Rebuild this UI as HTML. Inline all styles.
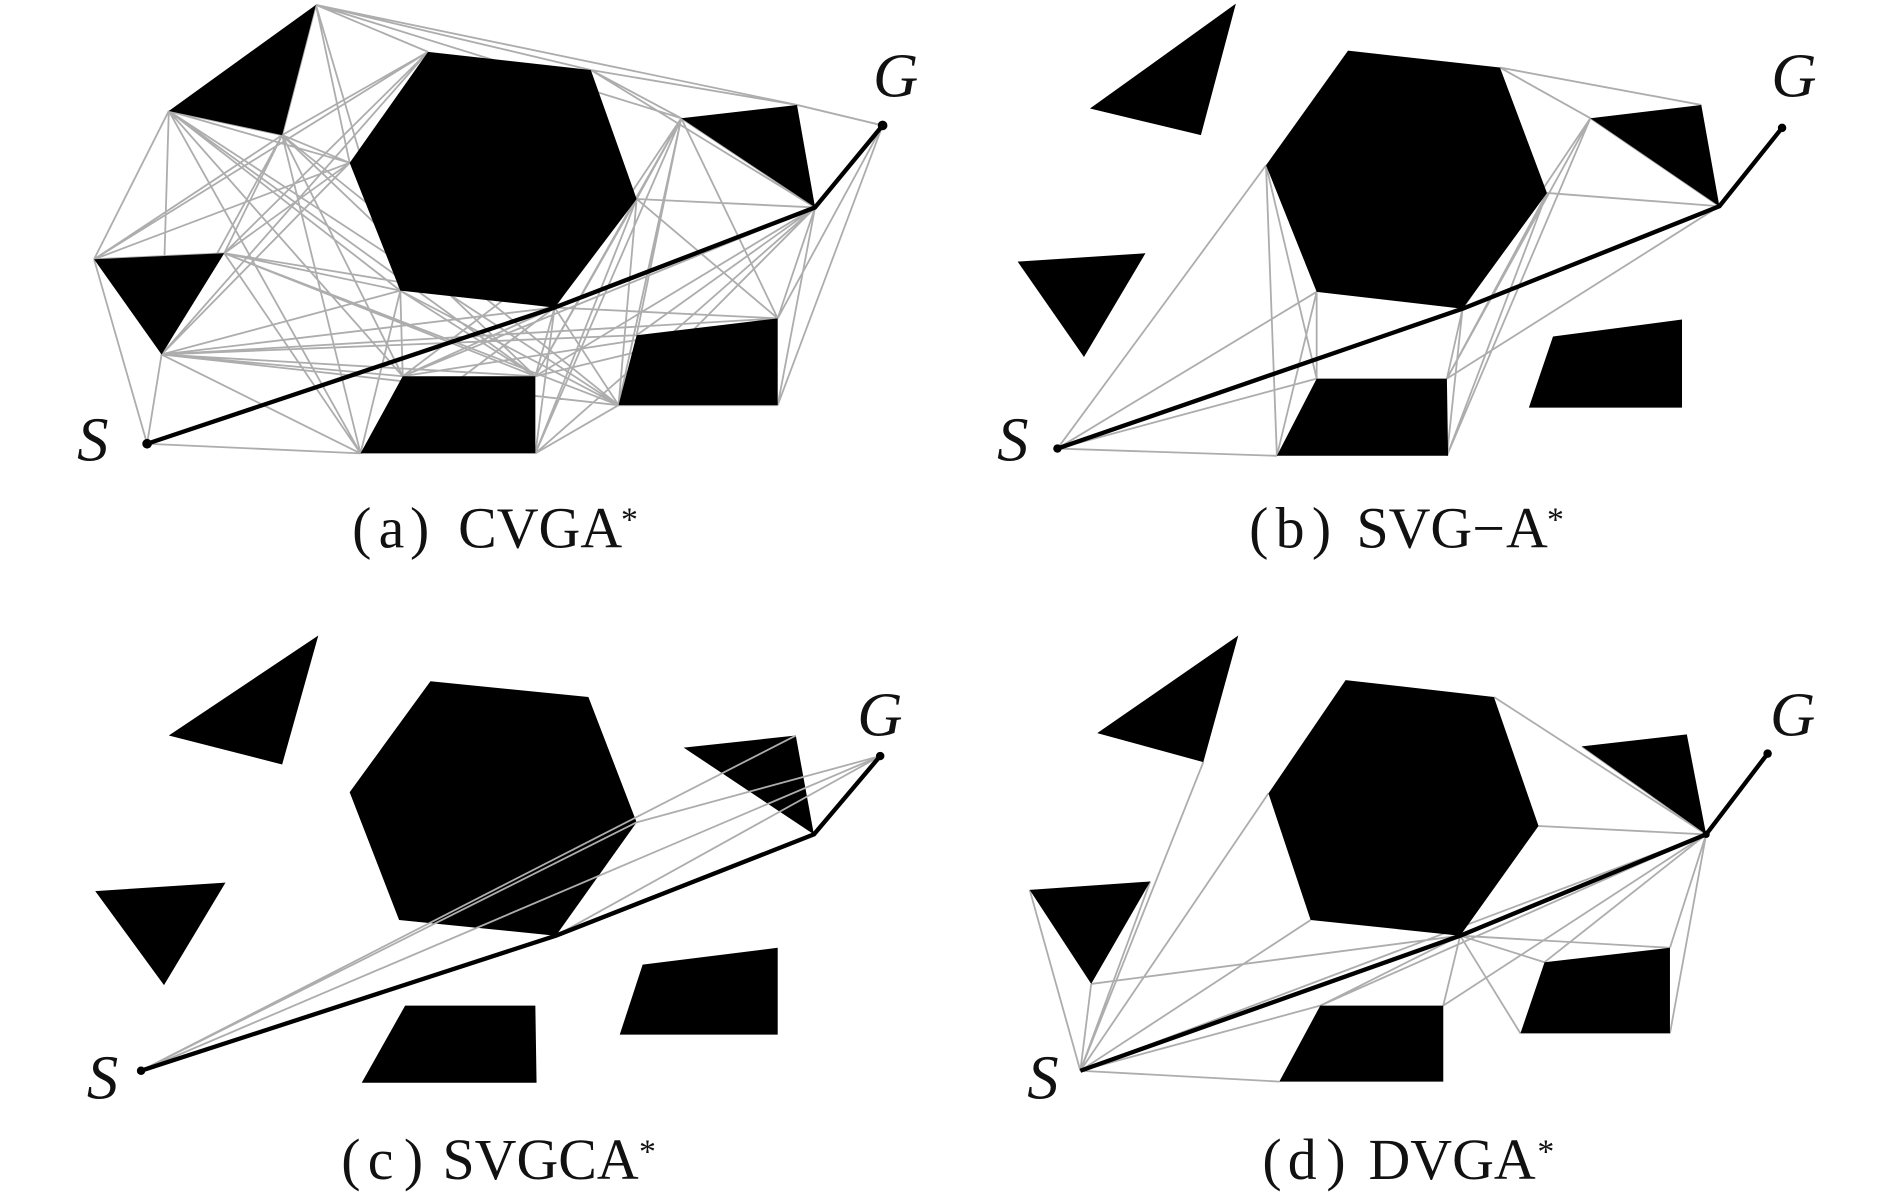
<!DOCTYPE html>
<html><head><meta charset="utf-8"><style>
html,body{margin:0;padding:0;background:#fff}
svg{display:block}
.o{fill:#000}
.t{fill:none;stroke:#adadad;stroke-width:1.5}
.p{fill:none;stroke:#000;stroke-width:3.6;stroke-linejoin:round}
text{font-family:"Liberation Serif",serif;fill:#111}
.i{font-style:italic;font-size:52px}
.c{font-size:48px}
.a{font-size:28px}
</style></head><body>
<svg width="1890" height="1201" viewBox="0 0 1567.5 996" xmlns="http://www.w3.org/2000/svg">
<rect width="1568" height="996" fill="#fff"/>

<!-- (a) -->
<path class="t" d="M122 368L78 215M122 368L134 294M122 368L299 376M299 376L134 294M444 376L513 336M513 336L645 336M645 336L676 172M645 336L732 104M645 264L732 104M645 264L676 172M262 4L355 43M262 4L490 58M262 4L661 87M262 4L565 98M262 4L234 112M262 4L290 135M262 4L332 241M661 87L732 104M490 58L565 98M490 58L661 87M490 58L676 172M528 165L676 172M78 215L140 92M78 215L234 112M78 215L355 43M78 215L290 135M78 215L186 210M140 92L234 112M140 92L290 135M140 92L134 294M140 92L332 241M140 92L334 312M140 92L299 376M140 92L444 312M140 92L513 336M234 112L290 135M234 112L186 210M234 112L134 294M234 112L334 312M234 112L299 376M234 112L444 312M234 112L513 336M355 43L186 210M355 43L134 294M355 43L234 112M290 135L186 210M290 135L134 294M186 210L332 241M186 210L460 255M186 210L444 312M186 210L513 336M186 210L299 376M134 294L332 241M134 294L460 255M134 294L528 278M134 294L645 264M134 294L334 312M134 294L444 312M134 294L513 336M134 294L299 376M332 241L299 376M332 241L334 312M332 241L444 312M332 241L513 336M460 255L334 312M460 255L444 312M460 255L299 376M460 255L444 376M460 255L513 336M460 255L645 264M528 165L444 312M528 165L444 376M528 165L513 336M528 165L645 264M528 165L334 312M565 98L528 165M565 98L460 255M565 98L444 312M565 98L444 376M565 98L513 336M565 98L528 278M565 98L645 264M565 98L676 172M676 172L334 312M676 172L444 312M676 172L444 376M676 172L513 336M676 172L528 278M334 312L645 264M444 312L645 264"/>
<path class="o" d="M262 4L140 92L234 112ZM355 43L490 58L528 165L460 255L332 241L290 135ZM565 98L661 87L676 172ZM78 215L186 210L134 294ZM334 312L444 312L444 376L299 376ZM528 278L645 264L645 336L513 336Z"/>
<path class="p" d="M122 368L460 255L676 172L732 104"/>
<circle cx="122" cy="368" r="4"/><circle cx="732" cy="104" r="4"/>
<text class="i" x="64" y="382">S</text><text class="i" x="724" y="80">G</text>
<text class="c" x="292" y="454">(</text><text class="c" x="314" y="454">a</text><text class="c" x="340" y="454">)</text><text class="c" x="380" y="454">CVGA</text><text class="a" x="515" y="440">*</text>

<!-- (b) -->
<path class="t" d="M877 372L1050 137M877 372L1092 242M877 372L1092 314M877 372L1213 256M877 372L1059 378M1059 378L1050 137M1050 137L1092 314M1092 242L1059 378M1092 242L1092 314M1200 378L1283 160M1200 378L1319 98M1200 314L1319 98M1200 314L1283 160M1213 256L1319 98M1213 256L1200 378M1200 314L1213 256M1200 314L1426 171M1283 160L1426 171M1244 56L1319 98M1244 56L1411 87M1319 98L1426 171"/>
<path class="o" d="M1025 3L904 90L996 112ZM1118 42L1244 56L1283 160L1213 256L1092 242L1050 137ZM1319 98L1411 87L1426 171ZM844 217L950 210L899 296ZM1092 314L1200 314L1201 378L1059 378ZM1288 279L1395 265L1395 338L1268 338Z"/>
<path class="p" d="M877 372L1213 256L1426 171L1478 106"/>
<circle cx="877" cy="372" r="3.5"/><circle cx="1478" cy="106" r="3.5"/>
<text class="i" x="827" y="382">S</text><text class="i" x="1469" y="80">G</text>
<text class="c" x="1036" y="454">(</text><text class="c" x="1058" y="454">b</text><text class="c" x="1088" y="454">)</text><text class="c" x="1125" y="454">SVG</text><text class="c" x="1221" y="454">−</text><text class="c" x="1249" y="454">A</text><text class="a" x="1283" y="440">*</text>

<!-- (c) -->
<path class="o" d="M264 527L140 610L234 634ZM357 565L488 578L528 682L461 776L331 763L290 657ZM567 620L660 610L675 692ZM79 739L187 732L136 817ZM336 834L444 834L445 898L300 898ZM533 800L645 786L645 858L514 858Z"/>
<path class="t" d="M117 888L660 610M117 888L730 627M117 888L528 682M528 682L730 627M461 776L730 627M461 776L675 692M117 888L461 776"/>
<path class="p" d="M117 888L461 776L675 692L730 627"/>
<circle cx="117" cy="888" r="3.5"/><circle cx="730" cy="627" r="3.5"/>
<text class="i" x="72" y="911">S</text><text class="i" x="711" y="610">G</text>
<text class="c" x="283" y="978">(</text><text class="c" x="305" y="978">c</text><text class="c" x="335" y="978">)</text><text class="c" x="367" y="978">SVGCA</text><text class="a" x="530" y="964">*</text>

<!-- (d) -->
<path class="t" d="M896 888L854 738M896 888L905 816M896 888L998 632M896 888L1052 658M896 888L1087 763M896 888L954 731M896 888L1095 834M896 888L1061 897M905 816L1211 776M1211 776L1197 834M1211 776L1261 857M1211 776L1281 798M1211 776L1385 786M1197 834L1415 692M1281 798L1415 692M1385 786L1415 692M1385 857L1415 692M1239 578L1415 692M1276 685L1415 692M1312 619L1415 692M896 888L1415 692M1095 834L1415 692M1095 834L1211 776"/>
<path class="o" d="M1027 527L910 608L998 632ZM1116 564L1239 578L1276 685L1211 776L1087 763L1052 658ZM1312 619L1399 609L1415 692ZM854 738L954 731L905 816ZM1095 834L1197 834L1197 897L1061 897ZM1281 798L1385 786L1385 857L1261 857Z"/>
<path class="p" d="M896 888L1211 776L1415 692L1466 625"/>
<circle cx="1415" cy="692" r="3"/><circle cx="1466" cy="625" r="3.5"/>
<text class="i" x="852" y="911">S</text><text class="i" x="1468" y="610">G</text>
<text class="c" x="1047" y="978">(</text><text class="c" x="1068" y="978">d</text><text class="c" x="1100" y="978">)</text><text class="c" x="1135" y="978">DVGA</text><text class="a" x="1275" y="964">*</text>
</svg>
</body></html>
